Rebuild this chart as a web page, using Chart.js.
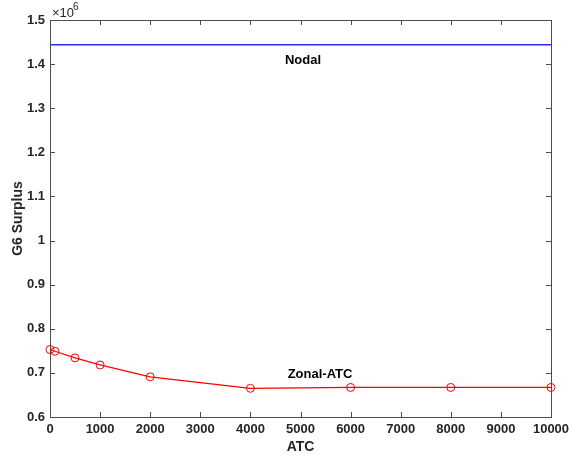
<!DOCTYPE html>
<html>
<head>
<meta charset="utf-8">
<script src="https://cdn.jsdelivr.net/npm/chart.js@4"></script>
<style>
  html, body { margin: 0; padding: 0; background: #fff; }
  #wrap { width: 571px; height: 459px; }
</style>
</head>
<body>
<div id="wrap"><canvas id="surplus"></canvas></div>
<script>
// values
const atc = [0, 100, 500, 1000, 2000, 4000, 6000, 8000, 10000];
const zonalSurplus = [753000, 749000, 734000, 718000, 691000, 665000, 667000, 667000, 667000];
const nodalSurplus = [1444000, 1444000];
const nodalAtc = [0, 10000];
const seriesNames = ["Nodal", "Zonal-ATC"];

const axisColor = "#4d4d4d";
const textColor = "#262626";
const font = "'Liberation Sans', Arial, sans-serif";

// inward ticks on all four sides, box, labels, exponent
const matlabAxes = {
	id: "matlabAxes",
	afterDraw(chart) {
		const ctx = chart.ctx;
		const a = chart.chartArea;
		const xs = chart.scales.x, ys = chart.scales.y;
		ctx.save();
		ctx.strokeStyle = axisColor;
		ctx.lineWidth = 1;
		ctx.beginPath();
		xs.ticks.forEach(t => {
			const px = Math.round(xs.getPixelForValue(t.value)) + 0.5;
			ctx.moveTo(px, a.bottom); ctx.lineTo(px, a.bottom - 5);
			ctx.moveTo(px, a.top); ctx.lineTo(px, a.top + 5);
		});
		ys.ticks.forEach(t => {
			const py = Math.round(ys.getPixelForValue(t.value)) + 0.5;
			ctx.moveTo(a.left, py); ctx.lineTo(a.left + 5, py);
			ctx.moveTo(a.right, py); ctx.lineTo(a.right - 5, py);
		});
		ctx.stroke();
		ctx.strokeRect(Math.round(a.left) + 0.5, Math.round(a.top) + 0.5,
			Math.round(a.right - a.left), Math.round(a.bottom - a.top));

		// series labels
		ctx.fillStyle = "#000";
		ctx.font = "bold 13px " + font;
		ctx.textAlign = "center";
		ctx.textBaseline = "middle";
		ctx.fillText(seriesNames[0], xs.getPixelForValue(5050), ys.getPixelForValue(1408000));
		ctx.fillText(seriesNames[1], xs.getPixelForValue(5390), ys.getPixelForValue(696000));

		// x10^6
		ctx.fillStyle = textColor;
		ctx.textAlign = "left";
		ctx.textBaseline = "alphabetic";
		ctx.font = "13px " + font;
		ctx.fillText("\u00d710", a.left + 2, a.top - 3);
		ctx.font = "10px " + font;
		ctx.fillText("6", a.left + 23, a.top - 10);
		ctx.restore();
	}
};

new Chart(document.getElementById("surplus"), {
	type: "line",
	data: {
		datasets: [
			{
				label: seriesNames[0],
				data: nodalAtc.map((x, i) => ({ x: x, y: nodalSurplus[i] })),
				borderColor: "#2b2bff",
				borderWidth: 1.5,
				pointRadius: 0,
				tension: 0,
			},
			{
				label: seriesNames[1],
				data: atc.map((x, i) => ({ x: x, y: zonalSurplus[i] })),
				borderColor: "#ff0000",
				borderWidth: 1.2,
				pointRadius: 4,
				pointBorderWidth: 1,
				pointBorderColor: "#ff0000",
				pointBackgroundColor: "rgba(0,0,0,0)",
				tension: 0,
			},
		],
	},
	options: {
		responsive: true,
		maintainAspectRatio: false,
		animation: false,
		clip: false,
		layout: { padding: { top: 20, right: 20, left: 0, bottom: 0 } },
		plugins: {
			legend: { display: false },
			tooltip: { enabled: false },
		},
		scales: {
			x: {
				type: "linear",
				min: 0,
				max: 10000,
				grid: { display: false, drawTicks: false },
				border: { display: false },
				ticks: {
					stepSize: 1000,
					padding: 5,
					maxRotation: 0,
					color: textColor,
					font: { family: font, size: 13, weight: "bold" },
					callback: v => String(v),
				},
				title: {
					display: true,
					text: "ATC",
					color: textColor,
					padding: { top: 2, bottom: 3 },
					font: { family: font, size: 14, weight: "bold" },
				},
				afterFit(scale) {
					scale.height = 42;
					scale.paddingLeft = 0;
					scale.paddingRight = 0;
				},
			},
			y: {
				type: "linear",
				min: 600000,
				max: 1500000,
				grid: { display: false, drawTicks: false },
				border: { display: false },
				ticks: {
					stepSize: 100000,
					padding: 5,
					color: textColor,
					font: { family: font, size: 13, weight: "bold" },
					callback: v => String(Math.round(v / 100000) / 10),
				},
				title: {
					display: true,
					text: "G6 Surplus",
					color: textColor,
					padding: { top: 10, bottom: 4 },
					font: { family: font, size: 14, weight: "bold" },
				},
				afterFit(scale) {
					scale.width = 50;
					scale.paddingTop = 0;
					scale.paddingBottom = 0;
				},
			},
		},
	},
	plugins: [matlabAxes],
});
</script>
</body>
</html>
